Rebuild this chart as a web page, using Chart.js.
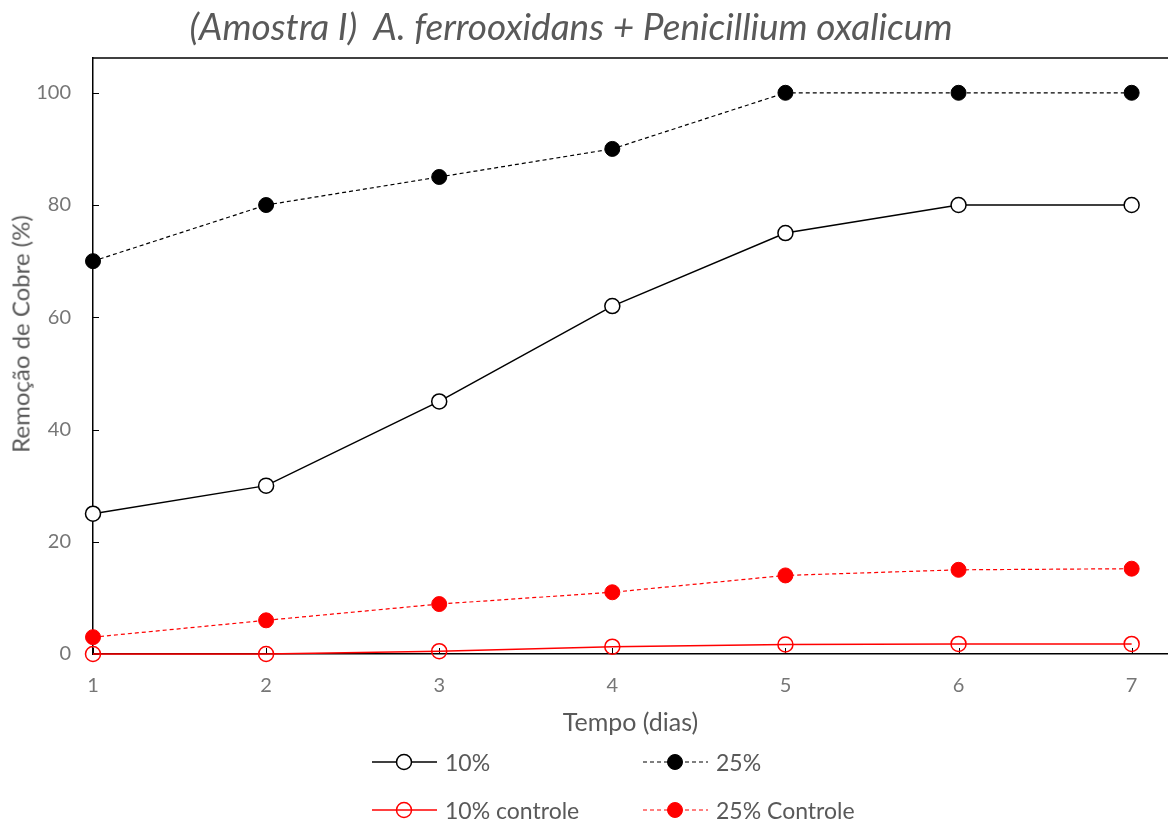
<!DOCTYPE html>
<html>
<head>
<meta charset="utf-8">
<script src="https://cdn.jsdelivr.net/npm/chart.js@4.4.0/dist/chart.umd.min.js"></script>
<style>
  html, body { margin: 0; padding: 0; background: #fff; }
  #wrap { position: relative; width: 1168px; height: 821px; font-family: Lato, "Open Sans", sans-serif; color: #595959; }
  #chart { position: absolute; left: 0; top: 0; }
  #title { position: absolute; left: 0; width: 1142px; top: 4px; text-align: center; font-size: 37px; font-style: italic; line-height: 44px; white-space: pre; }
  #ytitle { position: absolute; left: 20px; top: 334px; font-size: 24px; white-space: nowrap; transform: translate(-50%, -50%) rotate(-90deg); }
  .leg { position: absolute; display: flex; align-items: center; font-size: 23px; }
  .leg svg { margin-right: 7px; }
</style>
</head>
<body>
<div id="wrap">
  <canvas id="chart" width="1168" height="821"></canvas>
  <div id="title"></div>
  <div id="ytitle"></div>
  <div id="legend"></div>
</div>
<script>
// Dados
const days = [1, 2, 3, 4, 5, 6, 7];
const serie10 = [25, 30, 45, 62, 75, 80, 80];
const serie25 = [70, 80, 85, 90, 100, 100, 100];
const serie10Controle = [0, 0, 0.5, 1.3, 1.7, 1.8, 1.8];
const serie25Controle = [3, 6, 8.9, 11, 14, 15, 15.2];
const yTicks = [0, 20, 40, 60, 80, 100];

const chartTitle = '(Amostra I)  A. ferrooxidans + Penicillium oxalicum';
const xTitle = 'Tempo (dias)';
const yTitle = 'Remoção de Cobre (%)';

const textColor = '#595959';
const tickColor = '#767676';
const fontFamily = 'Lato, "Open Sans", sans-serif';

document.getElementById('title').textContent = chartTitle;
document.getElementById('ytitle').textContent = yTitle;

function toPoints(values) {
  return days.map((d, i) => ({ x: d, y: values[i] }));
}

// Moldura superior e marcas internas dos eixos
const frameAndTicks = {
  id: 'frameAndTicks',
  beforeDatasetsDraw(chart) {
    const { ctx, chartArea, scales } = chart;
    ctx.save();
    ctx.strokeStyle = '#000';
    ctx.lineWidth = 1.5;
    ctx.beginPath();
    ctx.moveTo(chartArea.left, chartArea.top);
    ctx.lineTo(chartArea.right, chartArea.top);
    ctx.stroke();
    ctx.lineWidth = 1;
    for (const v of yTicks) {
      const y = Math.round(scales.y.getPixelForValue(v)) + 0.5;
      ctx.beginPath();
      ctx.moveTo(chartArea.left, y);
      ctx.lineTo(chartArea.left + 6, y);
      ctx.stroke();
    }
    for (const d of days) {
      const x = Math.round(scales.x.getPixelForValue(d)) + 0.5;
      ctx.beginPath();
      ctx.moveTo(x, chartArea.bottom);
      ctx.lineTo(x, chartArea.bottom - 6);
      ctx.stroke();
    }
    ctx.restore();
  }
};

const datasets = [
  {
    label: '10%',
    data: toPoints(serie10),
    borderColor: '#000',
    borderWidth: 1.5,
    pointBackgroundColor: '#fff',
    pointBorderColor: '#000',
    pointBorderWidth: 1.5,
  },
  {
    label: '25%',
    data: toPoints(serie25),
    borderColor: '#000',
    borderDash: [4, 3],
    borderWidth: 1.2,
    pointBackgroundColor: '#000',
    pointBorderColor: '#000',
    pointBorderWidth: 1,
  },
  {
    label: '10% controle',
    data: toPoints(serie10Controle),
    borderColor: '#ff0000',
    borderWidth: 1.5,
    pointBackgroundColor: 'rgba(255,255,255,0)',
    pointBorderColor: '#ff0000',
    pointBorderWidth: 1.5,
  },
  {
    label: '25% Controle',
    data: toPoints(serie25Controle),
    borderColor: '#ff0000',
    borderDash: [4, 3],
    borderWidth: 1.2,
    pointBackgroundColor: '#ff0000',
    pointBorderColor: '#ff0000',
    pointBorderWidth: 1,
  },
];

for (const ds of datasets) {
  ds.pointRadius = 7.5;
  ds.pointHoverRadius = 7.5;
  ds.tension = 0;
  ds.clip = false;
}

new Chart(document.getElementById('chart'), {
  type: 'line',
  data: { datasets },
  plugins: [frameAndTicks],
  options: {
    responsive: false,
    animation: false,
    events: [],
    layout: { autoPadding: false, padding: { left: 0, right: 0, top: 58, bottom: 83 } },
    plugins: {
      legend: { display: false },
      tooltip: { enabled: false },
      title: { display: false },
    },
    scales: {
      x: {
        type: 'linear',
        min: 1,
        max: 7.21,
        afterBuildTicks(scale) {
          scale.ticks = days.map((d) => ({ value: d }));
        },
        afterFit(scale) {
          scale.height = 84;
          scale.paddingLeft = 0;
          scale.paddingRight = 0;
        },
        grid: { display: false, drawTicks: false },
        border: { display: true, color: '#000', width: 1.5 },
        ticks: { color: tickColor, font: { family: fontFamily, size: 20 }, padding: 20, maxRotation: 0 },
        title: {
          display: true,
          text: xTitle,
          color: textColor,
          font: { family: fontFamily, size: 25 },
          padding: 0,
        },
      },
      y: {
        min: 0,
        max: 106.2,
        afterBuildTicks(scale) {
          scale.ticks = yTicks.map((v) => ({ value: v }));
        },
        afterFit(scale) {
          scale.width = 93;
          scale.paddingTop = 0;
          scale.paddingBottom = 0;
        },
        grid: { display: false, drawTicks: false },
        border: { display: true, color: '#000', width: 1.5 },
        ticks: { color: tickColor, font: { family: fontFamily, size: 20 }, padding: 22 },
      },
    },
  },
});

// Legenda em HTML
const legendItems = [
  { ds: datasets[0], left: 372, top: 762 },
  { ds: datasets[1], left: 643, top: 762 },
  { ds: datasets[2], left: 372, top: 810 },
  { ds: datasets[3], left: 643, top: 810 },
];
const legendEl = document.getElementById('legend');
for (const item of legendItems) {
  const ds = item.ds;
  const dash = ds.borderDash ? `stroke-dasharray="${ds.borderDash.join(',')}"` : '';
  const fill = ds.pointBackgroundColor === '#fff' ? '#fff' : (ds.pointBackgroundColor.startsWith('rgba') ? 'none' : ds.pointBackgroundColor);
  const div = document.createElement('div');
  div.className = 'leg';
  div.style.left = item.left + 'px';
  div.style.top = (item.top - 14) + 'px';
  div.innerHTML =
    `<svg width="66" height="28"><line x1="0" y1="14" x2="65" y2="14" stroke="${ds.borderColor}" stroke-width="${ds.borderWidth}" ${dash}/>` +
    `<circle cx="32" cy="14" r="7.5" fill="${fill}" stroke="${ds.pointBorderColor}" stroke-width="${ds.pointBorderWidth}"/></svg>` +
    `<span>${ds.label}</span>`;
  legendEl.appendChild(div);
}
</script>
</body>
</html>
